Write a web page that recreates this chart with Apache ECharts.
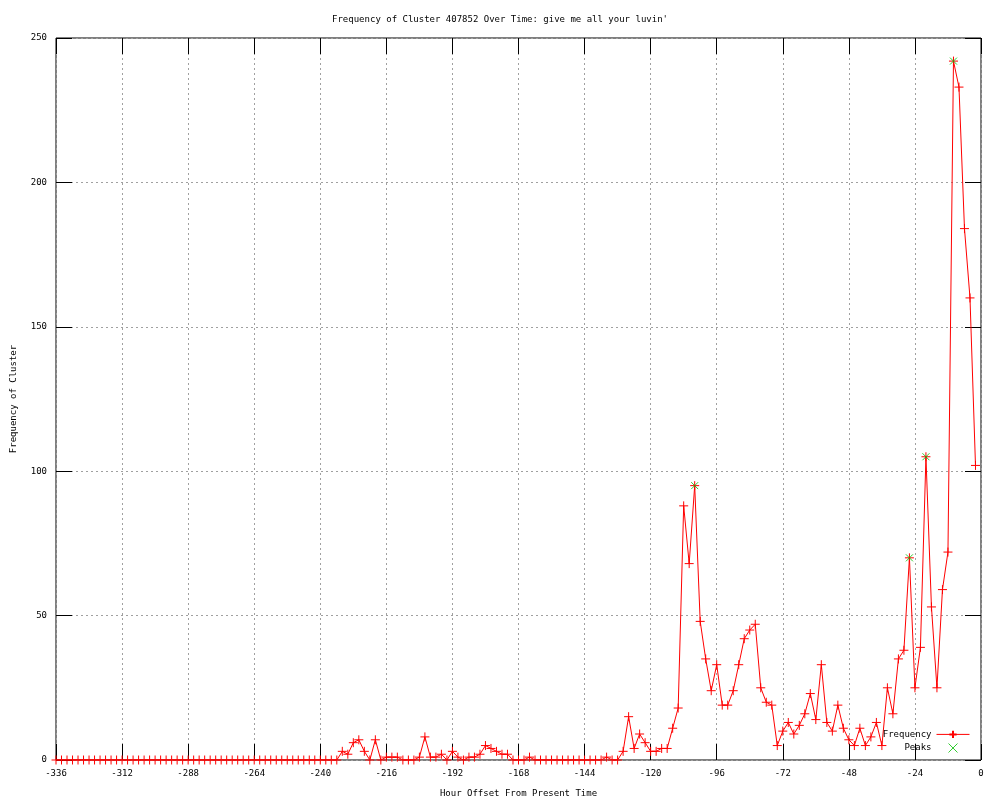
<!DOCTYPE html>
<html>
<head>
<meta charset="utf-8">
<title>Frequency of Cluster 407852</title>
<script src="https://cdn.jsdelivr.net/npm/echarts@6/dist/echarts.min.js"></script>
<style>
  html, body { margin: 0; padding: 0; background: #fff; }
  #chart { width: 1000px; height: 800px; }
</style>
</head>
<body>
<div id="chart"></div>
<script>
// one sample every 2 hours, -336 .. -2
const hours = [];
for (let h = -336; h <= -2; h += 2) hours.push(h);

const frequency = [
  0, 0, 0, 0, 0, 0, 0, 0, 0, 0,
  0, 0, 0, 0, 0, 0, 0, 0, 0, 0,
  0, 0, 0, 0, 0, 0, 0, 0, 0, 0,
  0, 0, 0, 0, 0, 0, 0, 0, 0, 0,
  0, 0, 0, 0, 0, 0, 0, 0, 0, 0,
  0, 0, 3, 2, 6, 7, 3, 0, 7, 0,
  1, 1, 1, 0, 0, 0, 1, 8, 1, 1,
  2, 0, 3, 1, 0, 1, 1, 2, 5, 4,
  3, 2, 2, 0, 0, 0, 1, 0, 0, 0,
  0, 0, 0, 0, 0, 0, 0, 0, 0, 0,
  1, 0, 0, 3, 15, 4, 9, 6, 3, 3,
  4, 4, 11, 18, 88, 68, 95, 48, 35, 24,
  33, 19, 19, 24, 33, 42, 45, 47, 25, 20,
  19, 5, 10, 13, 9, 12, 16, 23, 14, 33,
  13, 10, 19, 11, 7, 5, 11, 5, 8, 13,
  5, 25, 16, 35, 38, 70, 25, 39, 105, 53,
  25, 59, 72, 242, 233, 184, 160, 102
];

const peakHours = [-104, -26, -20, -10];
const peakValues = [95, 70, 105, 242];

const xTicks = { min: -336, max: 0, interval: 24 };
const yTicks = { min: 0, max: 250, interval: 50 };

const FONT = 'DejaVu Sans Mono';
const CROSS = 'path://M0,5L10,5M5,0L5,10';
const XMARK = 'path://M0,0L10,10M10,0L0,10';

const chart = echarts.init(document.getElementById('chart'), null, { renderer: 'canvas' });

const tickStyle = { show: true, inside: true, length: 16, lineStyle: { color: '#000', width: 1 } };
const noLine = { show: false, onZero: false };

chart.setOption({
  animation: false,
  backgroundColor: '#fff',
  textStyle: { fontFamily: FONT, fontSize: 9, color: '#000' },
  title: {
    text: "Frequency of Cluster 407852 Over Time: give me all your luvin'",
    left: 'center',
    top: 10,
    textStyle: { fontFamily: FONT, fontSize: 9, fontWeight: 'normal', color: '#000' },
  },
  grid: {
    left: 56,
    right: 19,
    top: 38,
    bottom: 40,
    outerBoundsMode: 'none',
    show: true,
    borderColor: '#000',
    borderWidth: 1,
    backgroundColor: 'transparent',
  },
  legend: {
    orient: 'vertical',
    align: 'right',
    right: 30,
    bottom: 47,
    padding: 0,
    itemGap: 4,
    itemWidth: 33,
    itemHeight: 9,
    selectedMode: false,
    lineStyle: { width: 1 },
    textStyle: { fontFamily: FONT, fontSize: 9, color: '#000' },
    data: [
      'Frequency',
      { name: 'Peaks', itemStyle: { borderWidth: 1 } },
    ],
  },
  xAxis: [
    {
      type: 'value',
      position: 'bottom',
      min: xTicks.min,
      max: xTicks.max,
      interval: xTicks.interval,
      name: 'Hour Offset From Present Time',
      nameLocation: 'middle',
      nameGap: 29,
      nameTextStyle: { fontFamily: FONT, fontSize: 9, color: '#000' },
      axisLine: noLine,
      axisTick: tickStyle,
      axisLabel: { fontFamily: FONT, fontSize: 9, color: '#000', margin: 9 },
      splitLine: { show: true, lineStyle: { color: '#a0a0a0', type: [2, 3], width: 1 } },
    },
    {
      type: 'value',
      position: 'top',
      min: xTicks.min,
      max: xTicks.max,
      interval: xTicks.interval,
      axisLine: noLine,
      axisTick: tickStyle,
      axisLabel: { show: false },
      splitLine: { show: false },
    },
  ],
  yAxis: [
    {
      type: 'value',
      position: 'left',
      min: yTicks.min,
      max: yTicks.max,
      interval: yTicks.interval,
      name: 'Frequency of Cluster',
      nameLocation: 'middle',
      nameGap: 38,
      nameRotate: 90,
      nameTextStyle: { fontFamily: FONT, fontSize: 9, color: '#000' },
      axisLine: noLine,
      axisTick: tickStyle,
      axisLabel: { fontFamily: FONT, fontSize: 9, color: '#000', margin: 9 },
      splitLine: { show: true, lineStyle: { color: '#a0a0a0', type: [2, 3], width: 1 } },
    },
    {
      type: 'value',
      position: 'right',
      min: yTicks.min,
      max: yTicks.max,
      interval: yTicks.interval,
      axisLine: noLine,
      axisTick: tickStyle,
      axisLabel: { show: false },
      splitLine: { show: false },
    },
  ],
  series: [
    {
      name: 'Frequency',
      type: 'line',
      xAxisIndex: 0,
      yAxisIndex: 0,
      data: hours.map((h, i) => [h, frequency[i]]),
      symbol: CROSS,
      symbolSize: 9,
      showAllSymbol: true,
      silent: true,
      lineStyle: { color: '#ff0000', width: 1 },
      itemStyle: { color: '#ff0000', borderColor: '#ff0000', borderWidth: 1 },
      emphasis: { disabled: true },
      z: 3,
    },
    {
      name: 'Peaks',
      type: 'scatter',
      xAxisIndex: 0,
      yAxisIndex: 0,
      data: peakHours.map((h, i) => [h, peakValues[i]]),
      symbol: XMARK,
      symbolSize: 7,
      symbolKeepAspect: true,
      silent: true,
      itemStyle: { color: '#00c000', borderColor: '#00c000', borderWidth: 1 },
      emphasis: { disabled: true },
      z: 4,
    },
  ],
});
</script>
</body>
</html>
